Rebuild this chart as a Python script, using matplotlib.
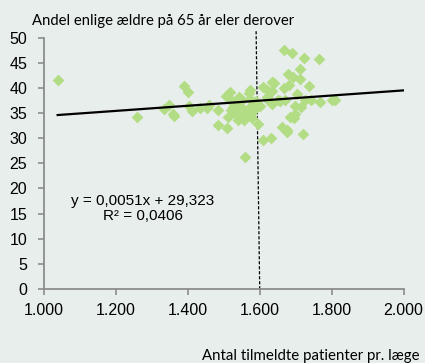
import matplotlib.pyplot as plt
import numpy as np

# patients per GP (x) vs share of elderly living alone (y), one point per municipality
patients = [1038, 1258, 1334, 1348, 1358, 1361, 1390, 1400, 1403, 1411,
            1435, 1453, 1460, 1484, 1485, 1508, 1516, 1516, 1511, 1519,
            1527, 1537, 1539, 1542, 1551, 1556, 1558, 1564, 1571, 1573,
            1573, 1569, 1578, 1584, 1594, 1608, 1610, 1619, 1622, 1631,
            1634, 1640, 1635, 1634, 1650, 1657, 1661, 1668, 1668, 1671,
            1675, 1677, 1679, 1681, 1685, 1689, 1692, 1694, 1698, 1699,
            1703, 1711, 1712, 1714, 1720, 1722, 1726, 1737, 1742, 1766,
            1768, 1800, 1810, 1525, 1545, 1560, 1575, 1590, 1505, 1530,
            1580, 1600, 1620]
share = [41.5, 34.2, 35.9, 36.7, 34.9, 34.5, 40.4, 39.2, 36.4, 35.5,
         36.0, 36.0, 36.7, 35.6, 32.7, 32.1, 39.3, 37.8, 34.3, 35.6,
         36.3, 34.6, 33.6, 38.3, 37.6, 33.6, 26.3, 35.6, 39.1, 39.6,
         37.9, 34.6, 34.0, 35.6, 32.8, 29.6, 40.1, 39.6, 37.6, 30.0,
         41.2, 41.0, 39.5, 36.9, 37.7, 37.4, 32.3, 47.5, 39.9, 37.6,
         31.6, 31.3, 42.8, 40.6, 34.3, 46.9, 42.2, 34.0, 34.9, 36.4,
         38.8, 43.8, 41.7, 36.3, 30.8, 45.9, 37.7, 40.4, 37.7, 45.8,
         37.3, 37.7, 37.7, 37.0, 36.5, 35.0, 36.2, 37.5, 38.5, 35.2,
         36.8, 36.4, 38.2]

# linear trend as stated in the label
slope = 0.0051
intercept = 29.323
r2 = 0.0406
median_patients = 1600

xticks = [1000, 1200, 1400, 1600, 1800, 2000]
yticks = [0, 5, 10, 15, 20, 25, 30, 35, 40, 45, 50]

bg = '#e8eeeb'
grey = '#8c8c8c'

fig = plt.figure(figsize=(4.25, 3.63), dpi=100, facecolor=bg)
ax = fig.add_axes([0.1035, 0.204, 0.846, 0.692], facecolor=bg)

ax.scatter(patients, share, marker='D', s=36, color='#b3dd85', linewidths=0, zorder=3)

xl = np.array([min(patients), 2000])
ax.plot(xl, slope * xl + intercept, color='black', lw=1.6, zorder=4)

# dotted marker line at 1.600 patients
ax.plot([median_patients - 10, median_patients], [51.3, 0], color='black', lw=0.9,
        ls=(0, (2.5, 1.5)), clip_on=False, zorder=2)

ax.set_xlim(1000, 2000)
ax.set_ylim(0, 50)
ax.set_xticks(xticks)
ax.set_yticks(yticks)
ax.set_xticklabels([f'{v:,}'.replace(',', '.') for v in xticks])
ax.set_yticklabels([str(v) for v in yticks])

for side in ['top', 'right']:
    ax.spines[side].set_visible(False)
for side in ['left', 'bottom']:
    ax.spines[side].set_color(grey)
    ax.spines[side].set_linewidth(1.3)
ax.tick_params(colors=grey, width=1.2, length=4, labelcolor='black', labelsize=11.5)
ax.tick_params(axis='y', pad=8)
ax.tick_params(axis='x', pad=6)
for lbl in ax.get_xticklabels() + ax.get_yticklabels():
    lbl.set_family('Liberation Sans')

fig.text(32 / 425, 1 - 21 / 363, 'Andel enlige ældre på 65 år eler derover',
         family='Lato', fontsize=10.7, va='center', ha='left')
fig.text(420 / 425, 1 - 356 / 363, 'Antal tilmeldte patienter pr. læge',
         family='Lato', fontsize=10.8, va='center', ha='right')

eq = f'y = {slope:.4f}x + {intercept:.3f}'.replace('.', ',')
rr = f'R² = {r2:.4f}'.replace('.', ',')
ax.text(1274, 16.0, eq + '\n' + rr, family='Liberation Sans', fontsize=11,
        ha='center', va='center', linespacing=1.05)

fig.savefig('out.png', dpi=100, facecolor=bg)
